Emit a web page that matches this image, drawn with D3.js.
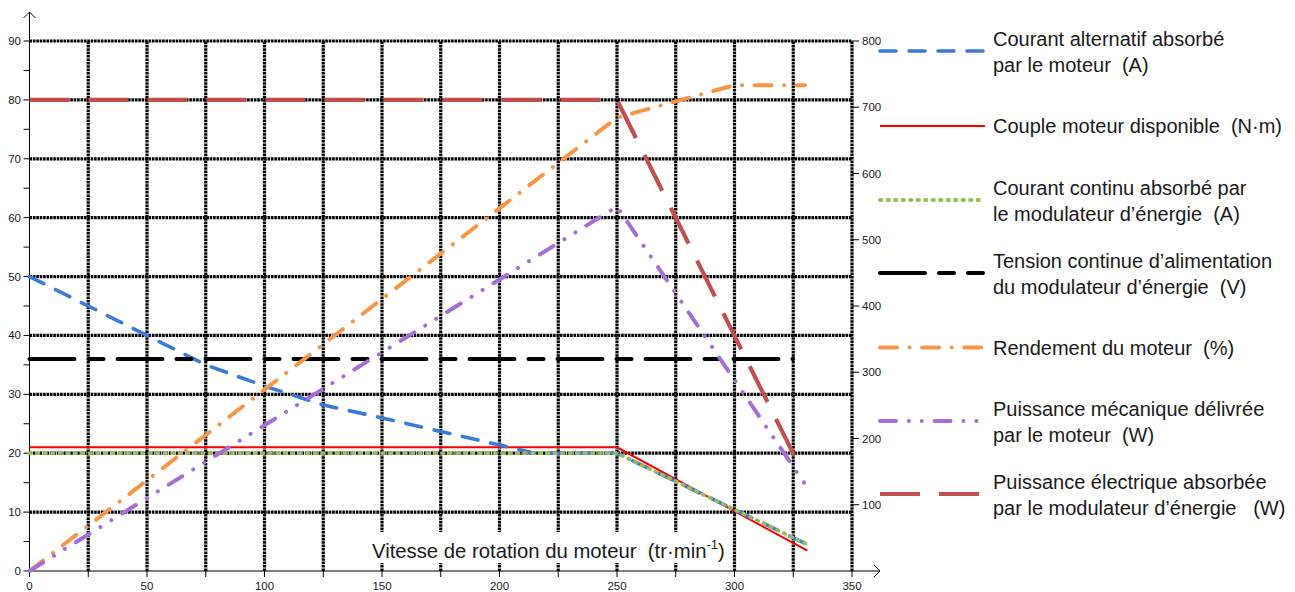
<!DOCTYPE html>
<html>
<head>
<meta charset="utf-8">
<script src="https://cdn.jsdelivr.net/npm/d3@7"></script>
<style>
  body { margin: 0; background: #fff; }
  text { font-family: "Liberation Sans", Arial, sans-serif; fill: #1a1a1a; white-space: pre; }
</style>
</head>
<body>
<div id="chart"></div>
<script>
// axis ticks
var xTicks = [0, 25, 50, 75, 100, 125, 150, 175, 200, 225, 250, 275, 300, 325, 350];
var xLabels = [0, 50, 100, 150, 200, 250, 300, 350];
var yLeftTicks = [0, 10, 20, 30, 40, 50, 60, 70, 80, 90];
var yRightTicks = [100, 200, 300, 400, 500, 600, 700, 800];

// series (speed in tr/min)
var courantAltSpeed = [0, 25, 50, 75, 100, 125, 150, 175, 200, 215, 250, 331];
var courantAltVal   = [50, 45, 40, 35, 31.4, 28.2, 26, 23.7, 21.4, 20, 20, 4.5];
var coupleSpeed = [0, 250, 331];
var coupleVal   = [21, 21, 3.45];
var courantContSpeed = [0, 250, 331];
var courantContVal   = [20, 20, 4.5];
var tensionSpeed = [0, 325];
var tensionVal   = [36, 36];
var rendementSpeed = [0, 250, 300, 330];
var rendementVal   = [0, 77, 82.5, 82.5];
var puissMecaSpeed = [0, 250, 331];
var puissMecaVal   = [0, 550, 126];   // right axis (W)
var puissElecSpeed = [0, 250, 327];
var puissElecVal   = [711, 711, 163]; // right axis (W)

var legendLabels = [
  ["Courant alternatif absorbé", "par le moteur  (A)"],
  ["Couple moteur disponible  (N·m)"],
  ["Courant continu absorbé par", "le modulateur d’énergie  (A)"],
  ["Tension continue d’alimentation", "du modulateur d’énergie  (V)"],
  ["Rendement du moteur  (%)"],
  ["Puissance mécanique délivrée", "par le moteur  (W)"],
  ["Puissance électrique absorbée", "par le modulateur d’énergie   (W)"]
];

var width = 1295, height = 592;
var svg = d3.select("#chart").append("svg")
  .attr("width", width).attr("height", height);

var x = d3.scaleLinear().domain([0, 350]).range([29.5, 852]);
var y = d3.scaleLinear().domain([0, 90]).range([571, 41]);
var yR = d3.scaleLinear().domain([0, 800]).range([571, 41]);

// grid
var grid = svg.append("g");
grid.selectAll(".hg").data(yLeftTicks.slice(1)).enter().append("line")
  .attr("x1", x(0)).attr("x2", x(350))
  .attr("y1", function(d) { return y(d); }).attr("y2", function(d) { return y(d); })
  .attr("stroke", "#000").attr("stroke-width", 3.2).attr("stroke-dasharray", "2.6,0.8");
grid.selectAll(".vg").data(xTicks.slice(1)).enter().append("line")
  .attr("y1", y(0)).attr("y2", y(90))
  .attr("x1", function(d) { return x(d); }).attr("x2", function(d) { return x(d); })
  .attr("stroke", "#000").attr("stroke-width", 3.2).attr("stroke-dasharray", "2.6,0.8");

// x axis title with white box behind
var title = svg.append("g");
title.append("rect").attr("x", 365).attr("y", 532).attr("width", 366).attr("height", 31).attr("fill", "#fff");
var tt = title.append("text").attr("x", 372).attr("y", 558).style("font-size", "20.3px");
tt.append("tspan").text("Vitesse de rotation du moteur  (tr·min");
tt.append("tspan").attr("dy", -9).style("font-size", "13px").text("-1");
tt.append("tspan").attr("dy", 9).text(")");

// axes
var axes = svg.append("g").attr("stroke", "#000").attr("fill", "none");
axes.append("line").attr("x1", x(0)).attr("x2", 880).attr("y1", y(0)).attr("y2", y(0));
axes.append("path").attr("d", "M874,565L880,571L874,577");
axes.append("line").attr("x1", x(0)).attr("x2", x(0)).attr("y1", y(0)).attr("y2", 12);
axes.append("path").attr("d", "M" + (x(0) - 6) + ",18L" + x(0) + ",12L" + (x(0) + 6) + ",18");

axes.selectAll(".xt").data(xTicks).enter().append("line")
  .attr("x1", function(d) { return x(d); }).attr("x2", function(d) { return x(d); })
  .attr("y1", y(0)).attr("y2", y(0) + 6);
axes.selectAll(".yt").data(d3.range(0, 91, 5)).enter().append("line")
  .attr("x1", x(0) - 6).attr("x2", x(0))
  .attr("y1", function(d) { return y(d); }).attr("y2", function(d) { return y(d); });
axes.selectAll(".yrt").data(yRightTicks).enter().append("line")
  .attr("x1", x(350)).attr("x2", x(350) + 7)
  .attr("y1", function(d) { return yR(d); }).attr("y2", function(d) { return yR(d); });

svg.selectAll(".xl").data(xLabels).enter().append("text")
  .attr("x", function(d) { return x(d); }).attr("y", 590)
  .attr("text-anchor", "middle").style("font-size", "11.5px")
  .text(function(d) { return d; });
svg.selectAll(".yl").data(yLeftTicks).enter().append("text")
  .attr("x", 21).attr("y", function(d) { return y(d) + 4; })
  .attr("text-anchor", "end").style("font-size", "11.5px")
  .text(function(d) { return d; });
svg.selectAll(".yrl").data(yRightTicks).enter().append("text")
  .attr("x", 862).attr("y", function(d) { return yR(d) + 4; })
  .style("font-size", "11.5px")
  .text(function(d) { return d; });

// series
var series = [
  { xs: courantAltSpeed, ys: courantAltVal, sc: y, color: "#3A7BD5", w: 3.6, dash: "16,13", cap: "round" },
  { xs: coupleSpeed, ys: coupleVal, sc: y, color: "#FF0000", w: 2, dash: null, cap: "butt" },
  { xs: courantContSpeed, ys: courantContVal, sc: y, color: "#9BBB59", w: 3.8, dash: "1.5,6", cap: "round" },
  { xs: tensionSpeed, ys: tensionVal, sc: y, color: "#000000", w: 4, dash: "45,14,15,14", cap: "round" },
  { xs: rendementSpeed, ys: rendementVal, sc: y, color: "#F79646", w: 4, dash: "17,12.5,0.1,12.5", cap: "round" },
  { xs: puissMecaSpeed, ys: puissMecaVal, sc: yR, color: "#A86ED8", w: 4, dash: "16,12.8,0.1,12.8,0.1,12.8", cap: "round" },
  { xs: puissElecSpeed, ys: puissElecVal, sc: yR, color: "#C0504D", w: 4.2, dash: "40,19", cap: "butt" }
];

// draw order: red, then blue, green on top of both
var order = [1, 0, 2, 3, 4, 5, 6];
order.forEach(function(i) {
  var s = series[i];
  var pts = s.xs.map(function(v, k) { return [v, s.ys[k]]; });
  var line = d3.line()
    .x(function(d) { return x(d[0]); })
    .y(function(d) { return s.sc(d[1]); });
  svg.append("path").datum(pts)
    .attr("d", line)
    .attr("fill", "none")
    .attr("stroke", s.color)
    .attr("stroke-width", s.w)
    .attr("stroke-linecap", s.cap)
    .attr("stroke-dasharray", s.dash);
});

// legend
var legY = [51, 126, 200, 273, 347.5, 421, 494];
var leg = svg.append("g");
series.forEach(function(s, i) {
  leg.append("line")
    .attr("x1", 880).attr("x2", s.cap === "round" ? 983 : 985)
    .attr("y1", legY[i]).attr("y2", legY[i])
    .attr("stroke", s.color).attr("stroke-width", s.w)
    .attr("stroke-linecap", s.cap)
    .attr("stroke-dasharray", s.dash);
  var lines = legendLabels[i];
  var t = leg.append("text").attr("x", 993).style("font-size", "20px");
  lines.forEach(function(l, k) {
    var base = lines.length === 1 ? legY[i] + 7 : legY[i] - 12 + 7 + k * 25.5;
    t.append("tspan").attr("x", 993).attr("y", base).text(l);
  });
});
</script>
</body>
</html>
